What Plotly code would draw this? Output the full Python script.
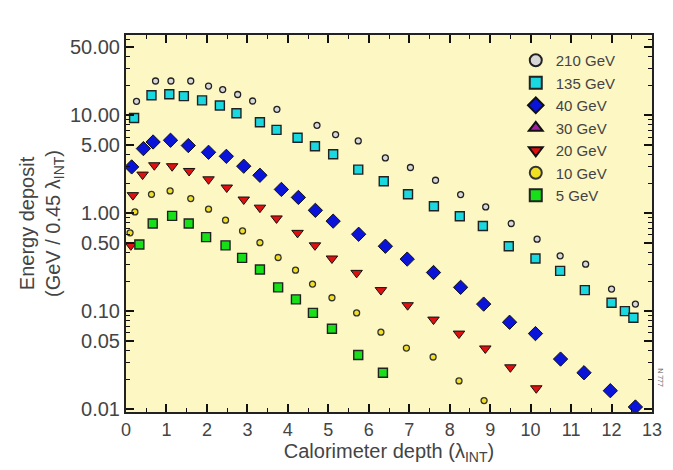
import plotly.graph_objects as go

# ---- data ----
x_210 = [0.26, 0.73, 1.11, 1.60, 2.04, 2.39, 2.76, 3.13, 3.73, 4.72, 5.18, 5.74, 6.41, 7.03, 7.65, 8.27, 8.89, 9.52, 10.16, 10.73, 11.36, 12.00, 12.59]
y_210 = [13.9, 22.4, 22.4, 22.4, 19.9, 18.3, 16.3, 14.0, 11.5, 7.9, 6.35, 5.47, 3.67, 2.93, 2.17, 1.55, 1.16, 0.785, 0.543, 0.367, 0.302, 0.168, 0.118]

x_135 = [0.20, 0.63, 1.07, 1.43, 1.88, 2.32, 2.73, 3.31, 3.72, 4.24, 4.67, 5.12, 5.74, 6.37, 6.97, 7.61, 8.25, 8.82, 9.46, 10.12, 10.73, 11.34, 12.00, 12.33, 12.54]
y_135 = [9.4, 16.0, 16.4, 15.7, 14.2, 12.6, 10.5, 8.5, 7.1, 5.9, 4.83, 4.0, 2.79, 2.12, 1.56, 1.18, 0.93, 0.74, 0.46, 0.345, 0.258, 0.164, 0.122, 0.10, 0.0855]

x_40 = [0.14, 0.43, 0.67, 1.10, 1.54, 2.04, 2.48, 2.91, 3.31, 3.84, 4.26, 4.68, 5.12, 5.75, 6.41, 6.95, 7.60, 8.27, 8.84, 9.48, 10.12, 10.74, 11.32, 11.97, 12.59]
y_40 = [2.97, 4.57, 5.34, 5.56, 4.91, 4.19, 3.81, 3.02, 2.44, 1.75, 1.45, 1.07, 0.83, 0.61, 0.46, 0.34, 0.248, 0.175, 0.118, 0.077, 0.059, 0.0324, 0.0235, 0.0154, 0.0105]

x_30 = []
y_30 = []

x_20 = [0.12, 0.17, 0.41, 0.70, 1.14, 1.56, 2.04, 2.49, 2.91, 3.31, 3.72, 4.24, 4.67, 5.09, 5.70, 6.30, 6.96, 7.60, 8.23, 8.88, 9.50, 10.14]
y_20 = [0.47, 1.53, 2.48, 3.09, 3.02, 2.70, 2.22, 1.83, 1.38, 1.14, 0.885, 0.63, 0.47, 0.345, 0.246, 0.164, 0.115, 0.082, 0.059, 0.0416, 0.0267, 0.0163]

x_10 = [0.10, 0.22, 0.63, 1.09, 1.60, 2.04, 2.46, 2.88, 3.31, 3.76, 4.19, 4.61, 5.09, 5.70, 6.30, 6.93, 7.59, 8.23, 8.85]
y_10 = [0.63, 1.03, 1.56, 1.69, 1.41, 1.10, 0.85, 0.66, 0.50, 0.353, 0.262, 0.189, 0.137, 0.096, 0.061, 0.042, 0.034, 0.0194, 0.0122]

x_5 = [0.33, 0.66, 1.14, 1.55, 1.98, 2.46, 2.87, 3.31, 3.76, 4.20, 4.62, 5.09, 5.74, 6.35]
y_5 = [0.48, 0.785, 0.94, 0.785, 0.57, 0.47, 0.35, 0.266, 0.175, 0.132, 0.096, 0.066, 0.0356, 0.0235]

y_tickvals = [0.01, 0.05, 0.1, 0.5, 1, 5, 10, 50]
y_ticktext = ["0.01", "0.05", "0.10", "0.50", "1.00", "5.00", "10.00", "50.00"]
x_tickvals = list(range(0, 14))

series = [
    ("210 GeV", x_210, y_210, dict(symbol="circle", size=6, color="#d8d8d8", line=dict(color="#222", width=1.3))),
    ("135 GeV", x_135, y_135, dict(symbol="square", size=9, color="#19d8e0", line=dict(color="#222", width=1.4))),
    ("40 GeV", x_40, y_40, dict(symbol="diamond", size=11, color="#0a14d8", line=dict(color="#111", width=1))),
    ("30 GeV", x_30, y_30, dict(symbol="triangle-up", size=10, color="#a020a0", line=dict(color="#111", width=1))),
    ("20 GeV", x_20, y_20, dict(symbol="triangle-down", size=10, color="#e01010", line=dict(color="#111", width=1))),
    ("10 GeV", x_10, y_10, dict(symbol="circle", size=6, color="#f0e020", line=dict(color="#333", width=1.3))),
    ("5 GeV", x_5, y_5, dict(symbol="square", size=9, color="#18e018", line=dict(color="#222", width=1.4))),
]

fig = go.Figure()
for name, xs, ys, mk in series:
    fig.add_trace(go.Scatter(x=xs if xs else [None], y=ys if ys else [None],
                             mode="markers", name=name, marker=mk))

# minor tick positions for the log axis
y_minor = [m * 10 ** d for d in range(-2, 2) for m in (2, 3, 4, 6, 7, 8, 9)]
x_minor = [i + 0.5 for i in range(0, 13)]

font_col = "#444444"
fig.update_layout(
    width=673, height=470,
    margin=dict(l=126, r=21, t=35, b=58),
    paper_bgcolor="white",
    plot_bgcolor="#FDF7C4",
    font=dict(family="Liberation Sans, Arial, sans-serif", size=18, color=font_col),
    showlegend=True,
    legend=dict(x=0.741, y=0.976, xanchor="left", yanchor="top",
                bgcolor="rgba(0,0,0,0)", borderwidth=0,
                font=dict(size=15, color=font_col), itemsizing="constant",
                tracegroupgap=0, itemwidth=30),
)
fig.update_xaxes(
    range=[0, 13], tickvals=x_tickvals, ticks="inside", ticklen=8, tickwidth=1.5,
    tickcolor="#111", showline=True, linecolor="#222", linewidth=2, mirror="ticks",
    showgrid=False, zeroline=False,
    minor=dict(tickvals=x_minor, ticks="inside", ticklen=4, tickcolor="#111", tickwidth=1),
    title=dict(text="Calorimeter depth (λ<sub>INT</sub>)", standoff=2, font=dict(size=20)),
    tickfont=dict(size=18),
)
fig.update_yaxes(
    type="log", range=[-2.03, 1.82], tickvals=y_tickvals, ticktext=y_ticktext,
    ticks="inside", ticklen=8, tickwidth=1.5, tickcolor="#111",
    showline=True, linecolor="#222", linewidth=2, mirror="ticks",
    showgrid=False, zeroline=False,
    minor=dict(tickvals=y_minor, ticks="inside", ticklen=4, tickcolor="#111", tickwidth=1),
    title=dict(text="Energy deposit<br>(GeV / 0.45 λ<sub>INT</sub>)", standoff=4, font=dict(size=20)),
    tickfont=dict(size=20),
)
fig.add_annotation(text="N 777", xref="paper", yref="paper", x=1.025, y=0.06,
                   showarrow=False, textangle=90, font=dict(size=7, color="#555"))

fig.write_html("out.html")
